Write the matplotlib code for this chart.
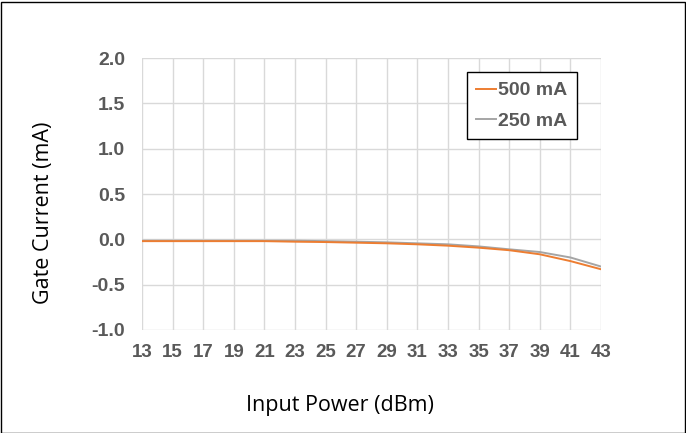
import matplotlib
matplotlib.use("Agg")
import matplotlib.pyplot as plt
from matplotlib.patches import Rectangle

power = [13, 15, 17, 19, 21, 23, 25, 27, 29, 31, 33, 35, 37, 39, 41, 43]
ig_500 = [-0.02, -0.02, -0.02, -0.02, -0.02, -0.026, -0.03, -0.037, -0.044, -0.055,
          -0.07, -0.092, -0.12, -0.165, -0.24, -0.33]
ig_250 = [-0.015, -0.015, -0.015, -0.015, -0.015, -0.015, -0.02, -0.026, -0.033, -0.044,
          -0.055, -0.078, -0.11, -0.14, -0.20, -0.30]
yticks = [-1.0, -0.5, 0.0, 0.5, 1.0, 1.5, 2.0]

tick_color = "#595959"
W, H = 686, 433

fig = plt.figure(figsize=(W / 100, H / 100), dpi=100)
ax = fig.add_axes([142 / W, 1 - 330 / H, (601 - 142) / W, (330 - 58) / H])

ax.plot(power, ig_250, color="#a5a5a5", lw=1.4, label="250 mA")
ax.plot(power, ig_500, color="#ed7d31", lw=1.4, label="500 mA")

ax.set_xlim(13, 43)
ax.set_ylim(-1.0, 2.0)
ax.set_xticks(power)
ax.set_yticks(yticks)
ax.set_yticklabels([f"{v:.1f}" for v in yticks])
ax.grid(True, color="#d9d9d9", lw=1)
ax.set_axisbelow(True)
for s in ax.spines.values():
    s.set_visible(False)
ax.tick_params(length=0, labelcolor=tick_color)
ax.tick_params(axis="y", labelsize=14, pad=12)
ax.tick_params(axis="x", labelsize=13.5, pad=10)
for lbl in ax.get_xticklabels() + ax.get_yticklabels():
    lbl.set_fontfamily("Liberation Sans")
    lbl.set_fontweight("bold")

fig.text(340 / W, 1 - 411.5 / H, "Input Power (dBm)", fontsize=15.5,
         family="Open Sans", ha="center", va="baseline")
fig.text(44 / W, 1 - 213 / H, "Gate Current (mA)", fontsize=15.5,
         family="Open Sans", ha="center", va="center", rotation=90)

h, l = ax.get_legend_handles_labels()
leg = ax.legend(h[::-1], l[::-1], loc="upper right", bbox_to_anchor=(577 / W, 1 - 72 / H),
                bbox_transform=fig.transFigure, fancybox=False, framealpha=1,
                edgecolor="black", handlelength=1.0, handletextpad=0.12,
                borderpad=0.5, borderaxespad=0, labelspacing=0.65,
                prop={"family": "Liberation Sans", "weight": "bold", "size": 14})
leg.get_frame().set_linewidth(1.0)
for t in leg.get_texts():
    t.set_color(tick_color)

fig.patches.append(Rectangle((0.5 / W, 0.5 / H), (W - 2) / W, (H - 2) / H,
                             transform=fig.transFigure, fill=False,
                             edgecolor="black", lw=1))

plt.savefig("out.png", dpi=100)
